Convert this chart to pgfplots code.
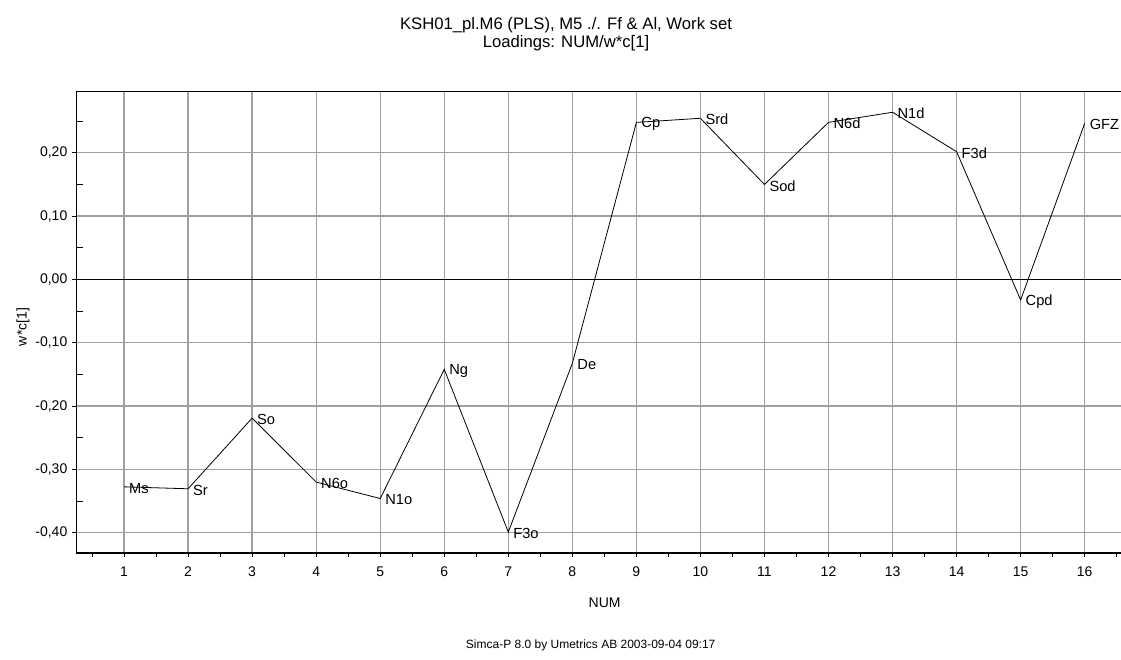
\documentclass[border=0pt]{standalone}
\usepackage{fontspec}
\setmainfont{Liberation Sans}
\usepackage{pgfplots}
\usepackage{pgfplotstable}
\pgfplotsset{compat=1.18}

\pgfplotstableread{
x y label
1 -0.3275 Ms
2 -0.3306 Sr
3 -0.219 So
4 -0.320 N6o
5 -0.346 N1o
6 -0.142 Ng
7 -0.399 F3o
8 -0.1325 De
9 0.248 Cp
10 0.2545 Srd
11 0.150 Sod
12 0.248 N6d
13 0.264 N1d
14 0.2017 F3d
15 -0.0325 Cpd
16 0.2466 GFZ
}\loadings

\definecolor{gridgray}{RGB}{160,160,160}

\begin{document}
\begin{tikzpicture}
\useasboundingbox (0,0) rectangle (840.75pt,495pt);
\begin{axis}[
  at={(57pt,80.25pt)}, anchor=south west,
  width=783.75pt, height=345.75pt, scale only axis,
  xmin=0.25, xmax=16.567, ymin=-0.432, ymax=0.296,
  axis lines=left,
  x axis line style={-, line width=1.5pt},
  y axis line style={-, line width=0.75pt},
  xtick={1,...,16},
  minor xtick={0.5,1.5,...,16.5},
  ytick={-0.4,-0.3,-0.2,-0.1,0,0.1,0.2},
  extra y ticks={-0.35,-0.25,-0.15,-0.05,0.05,0.15,0.25},
  extra y tick labels={},
  extra y tick style={grid=none, ytick align=inside, major tick length=5pt},
  tick align=outside,
  major tick length=3pt,
  minor tick length=3pt,
  tick style={black, line width=0.75pt},
  grid=major,
  major grid style={gridgray, line width=1pt},
  minor grid style={draw=none},
  tick label style={font=\fontsize{10.5}{12}\selectfont},
  yticklabel style={/pgf/number format/.cd, fixed, fixed zerofill, precision=2, use comma, assume math mode=true},
  xticklabel style={/pgf/number format/assume math mode=true, yshift=-4pt},
  clip=false,
]
\addplot[black, line width=1pt, forget plot] coordinates {(0.25,0) (16.567,0)};
\addplot[black, line width=0.6pt, mark=none,
  nodes near coords, point meta=explicit symbolic,
  every node near coord/.style={anchor=west, font=\fontsize{11}{12}\selectfont, xshift=0.5pt, yshift=-1pt, inner sep=3pt}]
  table[x=x, y=y, meta=label] {\loadings};
\draw[line width=0.75pt] (rel axis cs:0,1) -- (rel axis cs:1,1);
\end{axis}
\node[align=center, font=\fontsize{12.5}{13.5}\selectfont] at (424.5pt,469.5pt) {KSH01\_pl.M6 (PLS), M5 ./. Ff \& Al, Work set\\Loadings: NUM/w*c[1]};
\node[font=\fontsize{10.5}{12}\selectfont] at (453.5pt,43pt) {NUM};
\node[font=\fontsize{10.5}{12}\selectfont, rotate=90] at (17.25pt,249.75pt) {w*c[1]};
\node[font=\fontsize{9}{10}\selectfont] at (443pt,11.25pt) {Simca-P 8.0 by Umetrics AB 2003-09-04 09:17};
\end{tikzpicture}
\end{document}
